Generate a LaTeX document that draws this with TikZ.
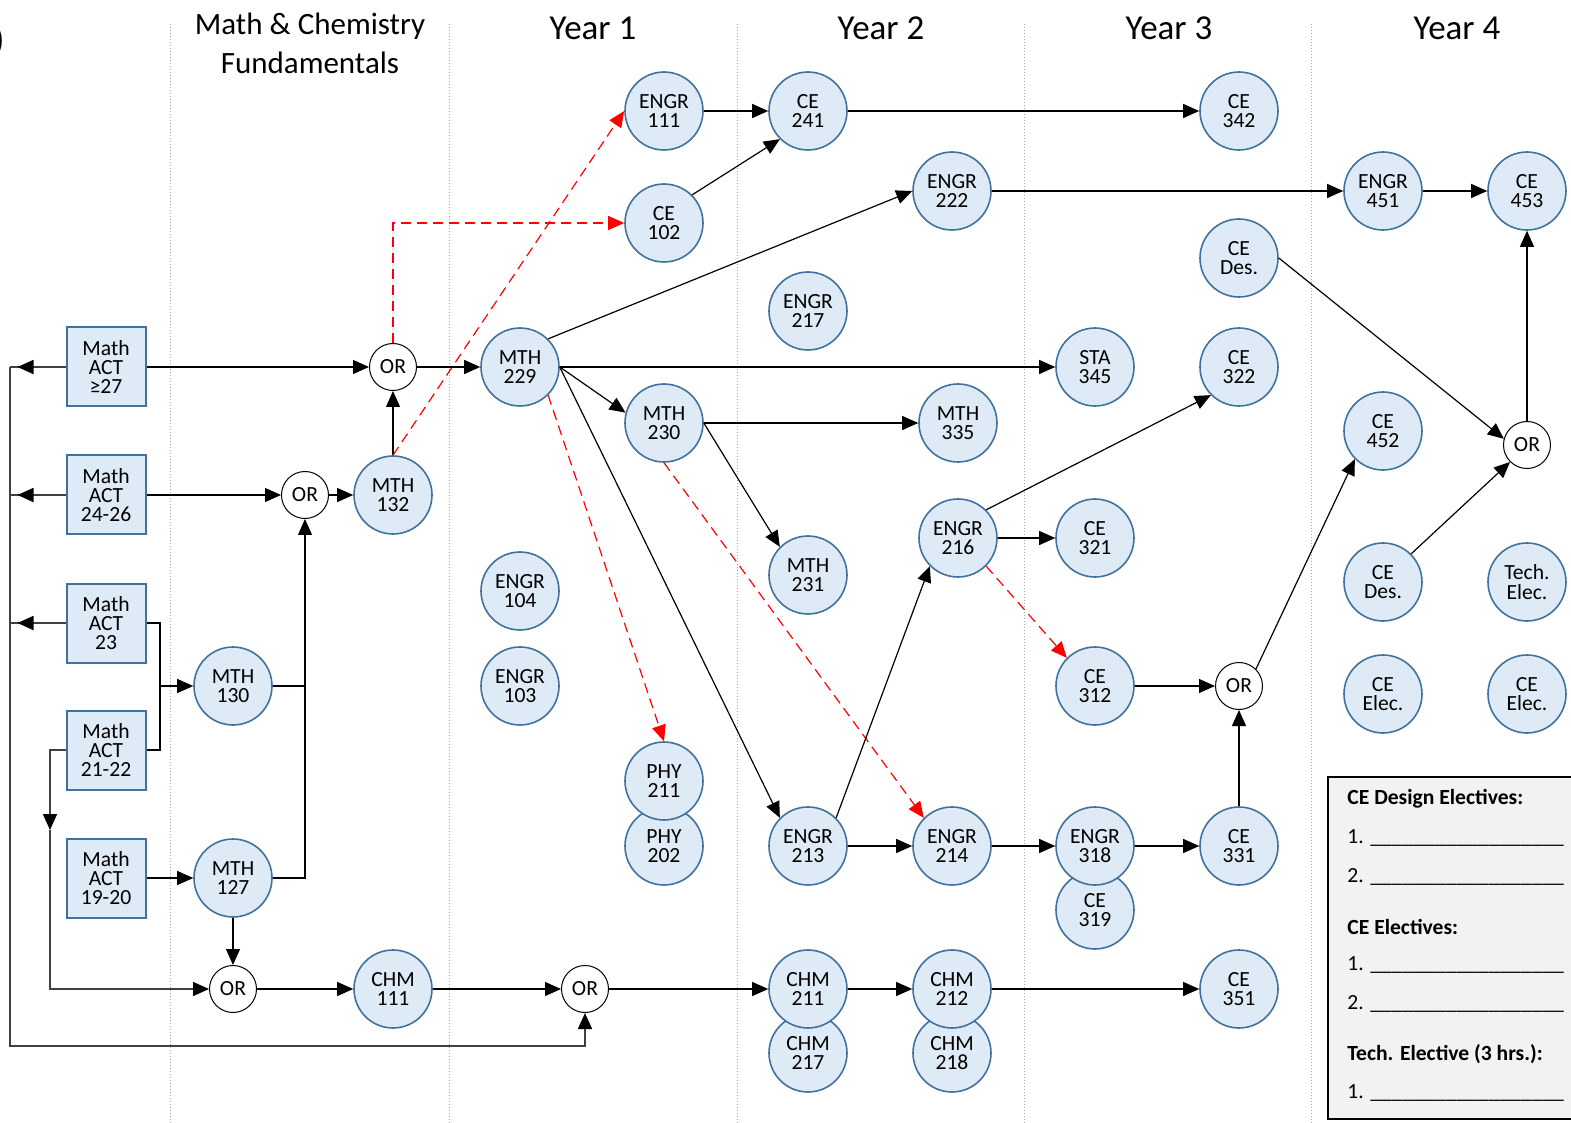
\documentclass[tikz,border=0pt]{standalone}
\usepackage{fontspec}
\setmainfont{Carlito}
\usetikzlibrary{arrows.meta}

\definecolor{nodeblue}{HTML}{DEEBF7}
\definecolor{edgeblue}{HTML}{41719C}
\definecolor{spinegray}{HTML}{404040}
\definecolor{legendgray}{HTML}{F2F2F2}

\newcommand{\blankline}{\_\_\_\_\_\_\_\_\_\_\_\_\_\_\_\_\_\_}

\begin{document}
\begin{tikzpicture}[
    x=0.5pt, y=-0.5pt,
    >={Triangle[length=8pt,width=7pt]},
    course/.style={circle, draw=edgeblue, fill=nodeblue, line width=0.8pt, minimum size=39pt, inner sep=0pt, align=center, font=\fontsize{10.8}{9.7}\selectfont},
    orgate/.style={circle, draw, fill=white, line width=0.5pt, minimum size=23.5pt, inner sep=0pt, font=\fontsize{10.8}{9.7}\selectfont},
    actbox/.style={rectangle, draw=edgeblue, fill=nodeblue, line width=1pt, minimum size=39.5pt, inner sep=0pt, align=center, font=\fontsize{10.8}{9.7}\selectfont},
    link/.style={->, line width=0.6pt},
    coreq/.style={->, red, line width=0.6pt, dash pattern=on 5pt off 3pt},
    spine/.style={spinegray, line width=0.8pt},
    spinearrow/.style={spine, -{Triangle[length=8pt,width=7pt,black]}},
    divider/.style={gray!70, densely dotted, line width=0.5pt},
    heading/.style={font=\fontsize{17.5}{20}\selectfont, align=center},
    legendbox/.style={draw, fill=legendgray, line width=1pt, anchor=north west, minimum width=124pt, minimum height=171pt},
    legtext/.style={anchor=west, inner sep=0pt, font=\fontsize{10.8}{12}\selectfont},
]
\useasboundingbox (0,0) rectangle (1571,1123);

% column dividers and headings
\foreach \x in {170,449,737,1024,1311}
    \draw[divider] (\x,24) -- (\x,1123);
\node[heading, anchor=east, inner sep=0pt] (plabel) at (5,41) {)};
\node[heading, font=\fontsize{15.5}{19.5}\selectfont] (hfund) at (310,43) {Math \& Chemistry\\Fundamentals};
\node[heading] (hyear1) at (593,28) {Year 1};
\node[heading] (hyear2) at (881,28) {Year 2};
\node[heading] (hyear3) at (1169,28) {Year 3};
\node[heading] (hyear4) at (1457,28) {Year 4};

% placement boxes
\node[actbox] (act27)   at (106,367) {Math\\ACT\\≥27};
\node[actbox] (act2426) at (106,495) {Math\\ACT\\24-26};
\node[actbox] (act23)   at (106,623) {Math\\ACT\\23};
\node[actbox] (act2122) at (106,750) {Math\\ACT\\21-22};
\node[actbox] (act1920) at (106,878) {Math\\ACT\\19-20};

% OR gates
\node[orgate] (or1) at (393,367) {OR};
\node[orgate] (or2) at (305,495) {OR};
\node[orgate] (or3) at (233,989) {OR};
\node[orgate] (or4) at (585,989) {OR};
\node[orgate] (or5) at (1239,686) {OR};
\node[orgate] (or6) at (1527,445) {OR};

% fundamentals
\node[course] (m130) at (233,686) {MTH\\130};
\node[course] (m127) at (233,878) {MTH\\127};
\node[course] (m132) at (393,495) {MTH\\132};
\node[course] (c111) at (393,989) {CHM\\111};

% year 1
\node[course] (m229) at (520,367) {MTH\\229};
\node[course] (e104) at (520,591) {ENGR\\104};
\node[course] (e103) at (520,686) {ENGR\\103};
\node[course] (e111) at (664,111) {ENGR\\111};
\node[course] (ce102) at (664,223) {CE\\102};
\node[course] (m230) at (664,423) {MTH\\230};
\node[course] (p202) at (664,846) {PHY\\202};
\node[course] (p211) at (664,781) {PHY\\211};

% year 2
\node[course] (ce241) at (808,111) {CE\\241};
\node[course] (e217) at (808,311) {ENGR\\217};
\node[course] (m231) at (808,575) {MTH\\231};
\node[course] (e213) at (808,846) {ENGR\\213};
\node[course] (c217) at (808,1053) {CHM\\217};
\node[course] (c211) at (808,989) {CHM\\211};
\node[course] (e222) at (952,191) {ENGR\\222};
\node[course] (m335) at (958,423) {MTH\\335};
\node[course] (e216) at (958,538) {ENGR\\216};
\node[course] (e214) at (952,846) {ENGR\\214};
\node[course] (c218) at (952,1053) {CHM\\218};
\node[course] (c212) at (952,989) {CHM\\212};

% year 3
\node[course] (s345) at (1095,367) {STA\\345};
\node[course] (ce321) at (1095,538) {CE\\321};
\node[course] (ce312) at (1095,686) {CE\\312};
\node[course] (ce319) at (1095,910) {CE\\319};
\node[course] (e318) at (1095,846) {ENGR\\318};
\node[course] (ce342) at (1239,111) {CE\\342};
\node[course] (cedes1) at (1239,258) {CE\\Des.};
\node[course] (ce322) at (1239,367) {CE\\322};
\node[course] (ce331) at (1239,846) {CE\\331};
\node[course] (ce351) at (1239,989) {CE\\351};

% year 4
\node[course] (e451) at (1383,191) {ENGR\\451};
\node[course] (ce452) at (1383,431) {CE\\452};
\node[course] (cedes2) at (1383,582) {CE\\Des.};
\node[course] (ceel1) at (1383,694) {CE\\Elec.};
\node[course] (ce453) at (1527,191) {CE\\453};
\node[course] (tech) at (1527,582) {Tech.\\Elec.};
\node[course] (ceel2) at (1527,694) {CE\\Elec.};

% electives legend
\node[legendbox] (legend) at (1327,776) {};
\node[legtext, font=\fontsize{10.8}{12}\selectfont\bfseries] (lgdes) at (1347,799) {CE Design Electives:};
\node[legtext] (lgdes1) at (1347,838) {1. \blankline};
\node[legtext] (lgdes2) at (1347,877) {2. \blankline};
\node[legtext, font=\fontsize{10.8}{12}\selectfont\bfseries] (lgel) at (1347,927) {CE Electives:};
\node[legtext] (lgel1) at (1347,965) {1. \blankline};
\node[legtext] (lgel2) at (1347,1004) {2. \blankline};
\node[legtext, font=\fontsize{10.8}{12}\selectfont\bfseries] (lgtech) at (1347,1054) {Tech. Elective (3 hrs.):};
\node[legtext] (lgtech1) at (1347,1093) {1. \blankline};

% left spine
\coordinate (spinetop) at (10,367);
\coordinate (spinebot) at (10,1046);
\coordinate (droptip) at (50,830);
\draw[spinearrow] (spinetop) -- (spinebot) -| (or4.south);
\foreach \b in {act27,act2426,act23} {
    \draw[spine] (\b.west) -- (spinetop |- \b.west);
    \draw[spinearrow] (\b.west) -- ++(-48,0);
}
\draw[spinearrow] (act2122.west) -| (droptip);
\draw[spinearrow] (droptip) |- (or3.west);

% fundamentals links
\coordinate (brk) at (160,686);
\draw[line width=0.6pt] (act23.east) -| (brk) |- (act2122.east);
\draw[link] (brk) -- (m130.west);
\draw[link] (act1920) -- (m127);
\draw[link] (act27) -- (or1);
\draw[link] (act2426) -- (or2);
\draw[link] (or2) -- (m132);
\draw[link] (m132) -- (or1);
\draw[link] (m127.east) -| (or2.south);
\draw[line width=0.6pt] (m130.east) -- (m130.east -| or2.south);
\draw[link] (m127) -- (or3);
\draw[link] (or3) -- (c111);
\draw[link] (c111) -- (or4);
\draw[link] (or4) -- (c211);
\draw[link] (c211) -- (c212);
\draw[link] (c212) -- (ce351);
\draw[coreq] (or1.north) |- (ce102.west);
\draw[coreq] (m132.north) -- (e111.west);
\draw[link] (or1) -- (m229);

% year 1 onwards
\draw[link] (e111) -- (ce241);
\draw[link] (ce102.45) -- (ce241.225);
\draw[link] (ce241) -- (ce342);
\draw[link] (m229.45) -- (e222.west);
\draw[link] (e222) -- (e451);
\draw[link] (e451) -- (ce453);
\draw[link] (m229) -- (s345);
\draw[link] (m229.east) -- (m230.165);
\draw[link] (m229.east) -- (e213.135);
\draw[coreq] (m229.-45) -- (p211.north);
\draw[link] (m230) -- (m335);
\draw[link] (m230.east) -- (m231.135);
\draw[coreq] (m230.south) -- (e214.135);
\draw[link] (e213) -- (e214);
\draw[link] (e213.45) -- (e216.225);
\draw[link] (e214) -- (e318);
\draw[link] (e318) -- (ce331);
\draw[link] (ce331) -- (or5);
\draw[link] (e216.45) -- (ce322.225);
\draw[link] (e216) -- (ce321);
\draw[coreq] (e216.-45) -- (ce312.135);
\draw[link] (ce312) -- (or5);
\draw[link] (or5.45) -- (ce452.225);
\draw[link] (cedes1.east) -- (or6.165);
\draw[link] (cedes2.45) -- (or6.225);
\draw[link] (or6) -- (ce453);
\end{tikzpicture}
\end{document}
